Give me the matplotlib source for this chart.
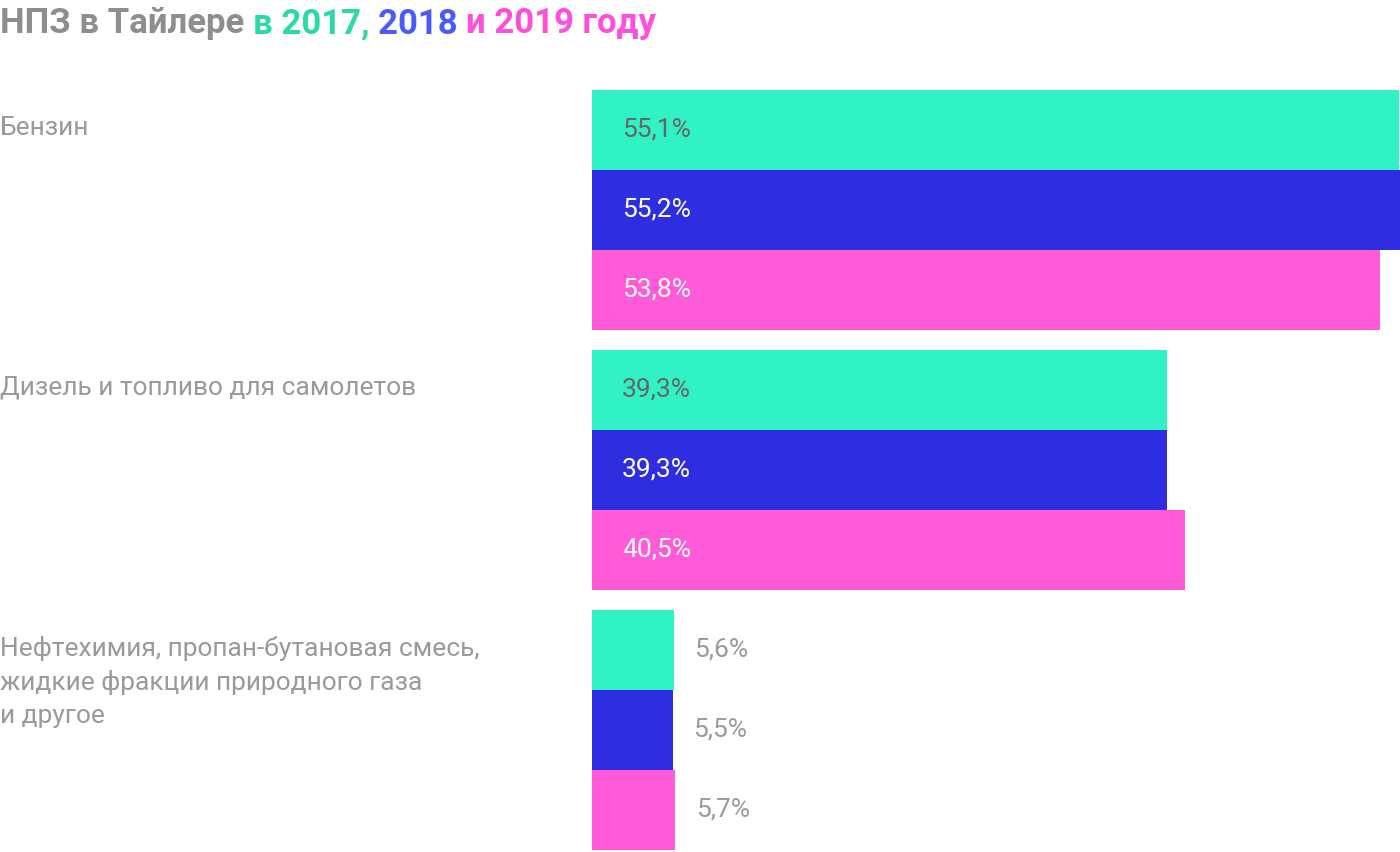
import matplotlib
matplotlib.use("Agg")
import matplotlib.pyplot as plt

plt.rcParams["font.family"] = "Roboto"

categories = ["Бензин", "Дизель и топливо для самолетов",
              "Нефтехимия, пропан-бутановая смесь,\nжидкие фракции природного газа\nи другое"]
years = ["2017", "2018", "2019"]
values = {
    "2017": [55.1, 39.3, 5.6],
    "2018": [55.2, 39.3, 5.5],
    "2019": [53.8, 40.5, 5.7],
}
colors = {"2017": "#31F2C4", "2018": "#2E2EE0", "2019": "#FF5AD7"}
label_colors = {"2017": "#666666", "2018": "white", "2019": "white"}
gray = "#9a9a9a"

W, H = 1400, 852
fig = plt.figure(figsize=(W / 100, H / 100), dpi=100)
ax = fig.add_axes([592 / W, 2 / H, 808 / W, 760 / H])
ax.set_xlim(0, 55.2)
ax.set_ylim(760, 0)
ax.axis("off")

bar_h = 80
group_step = 260
for i, cat in enumerate(categories):
    for j, y in enumerate(years):
        yc = i * group_step + j * bar_h + bar_h / 2
        v = values[y][i]
        ax.barh(yc, v, height=bar_h, color=colors[y], linewidth=0)
        txt = f"{v:.1f}%".replace(".", ",")
        if v > 20:
            ax.text(2.05, yc, txt, color=label_colors[y], fontsize=19, va="center", ha="left")
        else:
            ax.text(v + 1.4, yc, txt, color=gray, fontsize=19, va="center", ha="left")
    # category label aligned with first bar
    fig.text(0, 1 - (90 + i * group_step + 40) / H, cat, color=gray, fontsize=19,
             va="top", ha="left", linespacing=1.45,
             transform=fig.transFigure).set_y(1 - (90 + i * group_step + 26) / H)

# multicolored title
parts = [("НПЗ в Тайлере ", "#8e8e8e"), ("в 2017, ", "#2BD9A8"),
         ("2018 ", "#4A5CF5"), ("и 2019 году", "#FF4FD8")]
renderer = fig.canvas.get_renderer()
x = 0
for s, c in parts:
    t = fig.text(x, 1 - 24 / H, s, color=c, fontsize=25, fontweight="bold", va="center", ha="left")
    bb = t.get_window_extent(renderer=renderer)
    x += bb.width / W

fig.savefig("out.png", dpi=100)
